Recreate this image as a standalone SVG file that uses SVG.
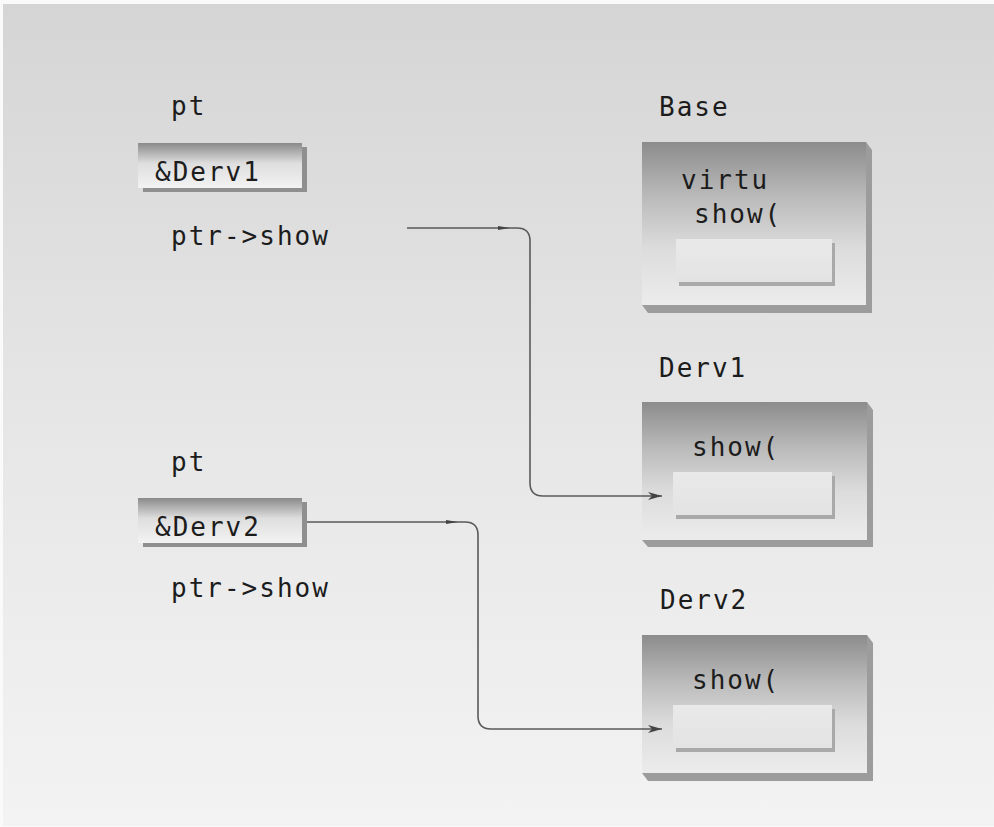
<svg xmlns="http://www.w3.org/2000/svg" width="994" height="827" viewBox="0 0 994 827">
<style>
  text { font-family: "DejaVu Sans Mono", "Liberation Mono", monospace; font-size: 26px; fill: #1c1c1c; letter-spacing: 2px; }
  .face { fill: url(#faceGrad); }
  .shadow { fill: #9c9c9c; }
  .inner { fill: url(#innerGrad); }
  .innerShadow { fill: #a9a9a9; }
  .ptrFace { fill: url(#ptrGrad); }
  .ptrShadow { fill: #8f8f8f; }
  .conn { fill: none; stroke: #5a5a5a; stroke-width: 1.6; }
  .barb { fill: #444; }
</style>
<defs>
  <linearGradient id="bgGrad" x1="0" y1="0" x2="0" y2="1">
    <stop offset="0" stop-color="#d5d5d5"/>
    <stop offset="0.5" stop-color="#e6e6e6"/>
    <stop offset="1" stop-color="#f3f3f3"/>
  </linearGradient>
  <linearGradient id="faceGrad" x1="0" y1="0" x2="0" y2="1">
    <stop offset="0" stop-color="#8c8c8c"/>
    <stop offset="0.35" stop-color="#bcbcbc"/>
    <stop offset="0.65" stop-color="#dcdcdc"/>
    <stop offset="1" stop-color="#ececec"/>
  </linearGradient>
  <linearGradient id="innerGrad" x1="0" y1="0" x2="0" y2="1">
    <stop offset="0" stop-color="#e9e9e9"/>
    <stop offset="1" stop-color="#e3e3e3"/>
  </linearGradient>
  <linearGradient id="ptrGrad" x1="0" y1="0" x2="0" y2="1">
    <stop offset="0" stop-color="#8a8a8a"/>
    <stop offset="0.45" stop-color="#dedede"/>
    <stop offset="1" stop-color="#f3f3f3"/>
  </linearGradient>
  <marker id="arrow" markerUnits="userSpaceOnUse" markerWidth="14" markerHeight="8" refX="14" refY="4" orient="auto">
    <path d="M0,0 L14,4 L0,8 L4,4 z" fill="#444"/>
  </marker>
</defs>

<rect x="0" y="0" width="994" height="827" fill="#fafafa"/>
<rect x="3" y="4" width="991" height="822" fill="url(#bgGrad)"/>

<g id="pt1">
  <text x="171" y="115">pt</text>
</g>
<g id="ptrbox1">
  <rect class="ptrShadow" x="143" y="147" width="164" height="45"/>
  <rect class="ptrFace" x="138" y="143" width="164" height="45"/>
  <text x="155" y="181">&amp;Derv1</text>
</g>
<g id="call1">
  <text x="171" y="245">ptr-&gt;show</text>
</g>

<g id="pt2">
  <text x="171" y="471">pt</text>
</g>
<g id="ptrbox2">
  <rect class="ptrShadow" x="143" y="502" width="164" height="45"/>
  <rect class="ptrFace" x="138" y="498" width="164" height="45"/>
  <text x="155" y="536">&amp;Derv2</text>
</g>
<g id="call2">
  <text x="171" y="597">ptr-&gt;show</text>
</g>

<g id="base">
  <text x="659" y="116">Base</text>
  <polygon class="shadow" points="866,142 872,150 872,313 648,313 642,305"/>
  <rect class="face" x="642" y="142" width="224" height="163"/>
  <rect class="innerShadow" x="679" y="243" width="156" height="43"/>
  <rect class="inner" x="676" y="239" width="156" height="43"/>
  <text x="681" y="189">virtu</text>
  <text x="694" y="223">show(</text>
</g>

<g id="derv1">
  <text x="659" y="377">Derv1</text>
  <polygon class="shadow" points="867,402 873,410 873,547 648,547 642,540"/>
  <rect class="face" x="642" y="402" width="225" height="138"/>
  <rect class="innerShadow" x="676" y="476" width="159" height="43"/>
  <rect class="inner" x="673" y="472" width="159" height="43"/>
  <text x="692" y="456">show(</text>
</g>

<g id="derv2">
  <text x="660" y="609">Derv2</text>
  <polygon class="shadow" points="867,635 873,643 873,781 648,781 642,773"/>
  <rect class="face" x="642" y="635" width="225" height="138"/>
  <rect class="innerShadow" x="676" y="709" width="159" height="43"/>
  <rect class="inner" x="673" y="705" width="159" height="43"/>
  <text x="692" y="689">show(</text>
</g>

<g id="connectors">
  <path class="conn" d="M407,228 H517 Q530,228 530,241 V483 Q530,496 543,496 H662" marker-end="url(#arrow)"/>
  <path class="barb" d="M498,226 L510,228 L498,230 z"/>
  <path class="conn" d="M307,522 H465 Q478,522 478,535 V716 Q478,729 491,729 H662" marker-end="url(#arrow)"/>
  <path class="barb" d="M446,520 L458,522 L446,524 z"/>
</g>
</svg>
